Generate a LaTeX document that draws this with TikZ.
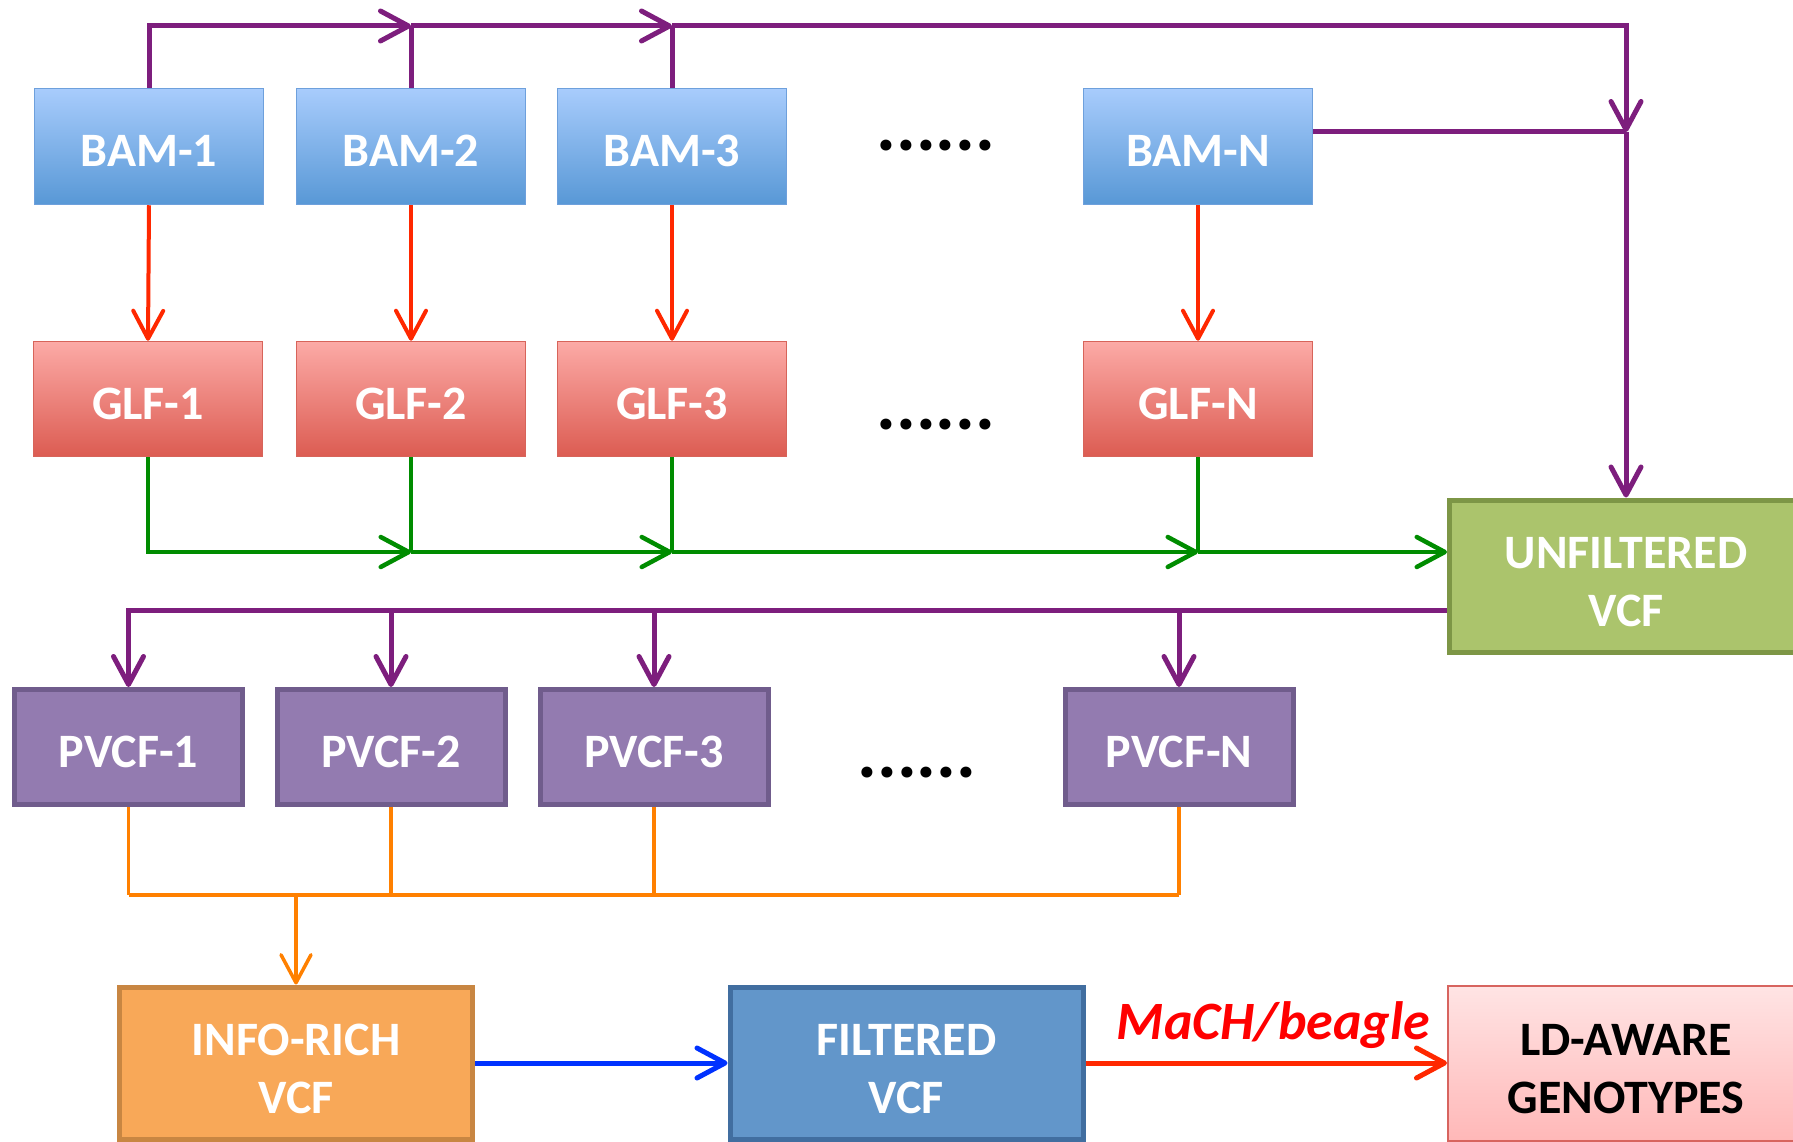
\documentclass[tikz,border=0pt]{standalone}
\usepackage{fontspec}
\setmainfont{Carlito}
\usetikzlibrary{arrows.meta,calc}
\definecolor{purp}{RGB}{125,30,125}
\definecolor{redl}{RGB}{255,40,0}
\definecolor{grnl}{RGB}{0,140,0}
\definecolor{orgl}{RGB}{255,128,0}
\definecolor{blul}{RGB}{0,50,255}
\definecolor{bamtop}{RGB}{168,204,252}
\definecolor{bambot}{RGB}{88,152,214}
\definecolor{bamedge}{RGB}{110,160,220}
\definecolor{glftop}{RGB}{252,170,166}
\definecolor{glfbot}{RGB}{220,92,82}
\definecolor{glfedge}{RGB}{215,100,90}
\definecolor{uffill}{RGB}{171,196,108}
\definecolor{ufedge}{RGB}{125,150,70}
\definecolor{pvfill}{RGB}{147,123,176}
\definecolor{pvedge}{RGB}{112,92,140}
\definecolor{irfill}{RGB}{248,168,88}
\definecolor{iredge}{RGB}{200,134,66}
\definecolor{flfill}{RGB}{98,150,202}
\definecolor{fledge}{RGB}{65,110,160}
\definecolor{ldtop}{RGB}{255,228,228}
\definecolor{ldbot}{RGB}{255,184,184}
\definecolor{ldedge}{RGB}{215,100,95}
\begin{document}
\begin{tikzpicture}[x=1pt,y=-1pt,
  box/.style={rectangle, inner sep=0pt, font=\fontsize{48}{58}\selectfont\bfseries, text=white, align=center, text height=41pt, text depth=0pt},
  twoline/.style={text height=100pt, text depth=0pt},
  bam/.style={box, minimum width=229pt, minimum height=116pt, top color=bamtop, bottom color=bambot, draw=bamedge, line width=1.5pt},
  glf/.style={box, minimum width=229pt, minimum height=115pt, top color=glftop, bottom color=glfbot, draw=glfedge, line width=1.5pt},
  pv/.style={box, minimum width=228pt, minimum height=115pt, fill=pvfill, draw=pvedge, line width=5pt},
  big/.style={box, twoline, minimum width=353pt, minimum height=152pt, line width=5pt},
  dots/.style={font=\fontsize{74}{74}\selectfont\bfseries, text=black, inner sep=0pt, anchor=base},
  arr/.style={-{Straight Barb[length=28pt,width=30pt,round]}},
  pline/.style={draw=purp, line width=5pt},
  rline/.style={draw=redl, line width=4pt},
  gline/.style={draw=grnl, line width=4.5pt},
  oline/.style={draw=orgl, line width=3.5pt},
  ohline/.style={draw=orgl, line width=4.5pt},
  bline/.style={draw=blul, line width=5pt},
  r2line/.style={draw=redl, line width=5pt},
]
\useasboundingbox (0,0) rectangle (1793,1142);

% BAM row
\node[bam] (b1) at (149,146.5) {BAM-1};
\node[bam] (b2) at (411,146.5) {BAM-2};
\node[bam] (b3) at (672,146.5) {BAM-3};
\node[bam] (bN) at (1198,146.5) {BAM-N};
\node[dots] (d1) at (936,151) {......};

% GLF row
\node[glf] (g1) at (148,399) {GLF-1};
\node[glf] (g2) at (411,399) {GLF-2};
\node[glf] (g3) at (672,399) {GLF-3};
\node[glf] (gN) at (1198,399) {GLF-N};
\node[dots] (d2) at (936,429) {......};

% Unfiltered
\node[big, fill=uffill, draw=ufedge] (uf) at (1626,576) {UNFILTERED\\VCF};

% PVCF row
\node[pv] (p1) at (128.5,747) {PVCF-1};
\node[pv] (p2) at (391,747) {PVCF-2};
\node[pv] (p3) at (654,747) {PVCF-3};
\node[pv] (pN) at (1179,747) {PVCF-N};
\node[dots] (d3) at (917,777) {......};

% bottom row
\node[big, fill=irfill, draw=iredge] (ir) at (296,1063) {INFO-RICH\\VCF};
\node[big, fill=flfill, draw=fledge] (fl) at (906.5,1063) {FILTERED\\VCF};
\node[big, top color=ldtop, bottom color=ldbot, draw=ldedge, line width=2pt, text=black, minimum width=356pt, minimum height=155pt] (ld) at (1626,1063) {LD-AWARE\\GENOTYPES};

% top purple connectors
\coordinate (j2) at (b2.north |- 0,26);
\coordinate (j3) at (b3.north |- 0,26);
\coordinate (jn) at (uf.north |- 0,132);
\draw[pline, arr] (b1.north) |- (j2);
\draw[pline] (b2.north) -- (j2);
\draw[pline, arr] (j2) -- (j3);
\draw[pline] (b3.north) -- (j3);
\draw[pline, arr] (j3) -| (jn);
\draw[pline] (bN.east |- jn) -- (jn);
\draw[pline, arr] (jn) -- (uf.north);

% red BAM->GLF
\draw[rline, arr] (b1.south) -- (g1.north);
\draw[rline, arr] (b2.south) -- (g2.north);
\draw[rline, arr] (b3.south) -- (g3.north);
\draw[rline, arr] (bN.south) -- (gN.north);

% green GLF -> unfiltered
\coordinate (k2) at (g2.south |- 0,552);
\coordinate (k3) at (g3.south |- 0,552);
\coordinate (kN) at (gN.south |- 0,552);
\draw[gline, arr] (g1.south) |- (k2);
\draw[gline] (g2.south) -- (k2);
\draw[gline, arr] (k2) -- (k3);
\draw[gline] (g3.south) -- (k3);
\draw[gline, arr] (k3) -- (kN);
\draw[gline] (gN.south) -- (kN);
\draw[gline, arr] (kN) -- (uf.west |- kN);

% purple unfiltered -> PVCF
\coordinate (m1) at (p1.north |- 0,610);
\draw[pline, arr] (uf.west |- m1) -| (p1.north);
\draw[pline, arr] (p2.north |- m1) -- (p2.north);
\draw[pline, arr] (p3.north |- m1) -- (p3.north);
\draw[pline, arr] (pN.north |- m1) -- (pN.north);

% orange PVCF -> info-rich
\coordinate (o1) at (p1.south |- 0,895);
\coordinate (oN) at (pN.south |- 0,895);
\draw[oline] (p1.south) -- (o1);
\draw[oline] (p2.south) -- (p2.south |- o1);
\draw[oline] (p3.south) -- (p3.south |- o1);
\draw[oline] (pN.south) -- (oN);
\draw[ohline] (o1) -- (oN);
\draw[oline, arr] (ir.north |- o1) -- (ir.north);

% bottom arrows
\draw[bline, arr] (ir.east) -- (fl.west);
\draw[r2line, arr] (fl.east) -- node[pos=0.52, anchor=base, yshift=24pt, inner sep=0pt, text=red, font=\fontsize{54}{54}\selectfont\bfseries\itshape] {MaCH/beagle} (ld.west);
\end{tikzpicture}
\end{document}
